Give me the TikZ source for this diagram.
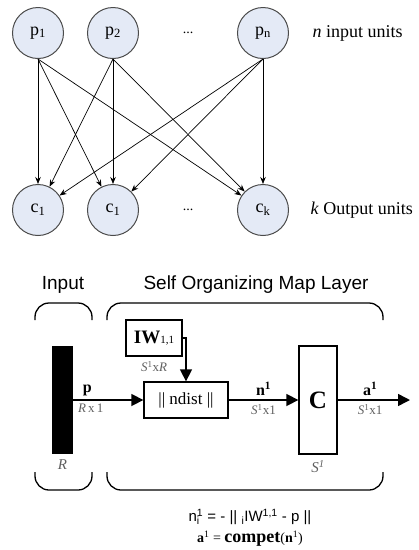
\documentclass[tikz,border=0pt]{standalone}
\usepackage{fontspec}
\setmainfont{Liberation Serif}
\setsansfont{Liberation Sans}
\usetikzlibrary{arrows.meta,positioning}
\definecolor{unitfill}{RGB}{228,234,246}
\definecolor{unitline}{RGB}{75,75,75}
\definecolor{dimgray}{RGB}{95,95,95}
\tikzstyle{unit}=[
  circle,
  draw=unitline,
  fill=unitfill,
  line width=1pt,
  inner sep=0pt,
  minimum size=51pt,
  font={\fontsize{18}{20}\selectfont},
]
\tikzstyle{link}=[
  -{Stealth[length=7pt,width=5.5pt]},
  line width=.7pt,
]
\tikzstyle{unitlabel}=[
  anchor=west,
  font={\fontsize{18}{20}\selectfont},
]
\tikzstyle{layertext}=[
  font={\sffamily\fontsize{19}{21}\selectfont},
]
\tikzstyle{bracketline}=[
  line width=1.3pt,
  rounded corners=14pt,
]
\tikzstyle{block}=[
  draw,
  line width=1.3pt,
  inner sep=0pt,
  rectangle,
  font={\fontsize{17}{19}\selectfont},
]
\tikzstyle{signal}=[
  line width=1.5pt,
  -{Triangle[length=12pt,width=12pt]},
]
\tikzstyle{sizelabel}=[
  color=dimgray,
  font={\fontsize{13}{15}\selectfont},
]
\tikzstyle{varlabel}=[
  font={\fontsize{16}{18}\selectfont\bfseries},
]
\tikzset{
  node distance=75pt,
}

\begin{document}
\begin{tikzpicture}[x=1pt,y=-1pt]
    \useasboundingbox (0,0) rectangle (419,550);
    % competitive network: input units and output units
    \node (p1) [unit] at (38,33) {p\textsubscript{1}};
    \node (p2) [unit, right of=p1] {p\textsubscript{2}};
    \node (pdots) [right of=p2, font={\fontsize{14}{16}\selectfont}] {...};
    \node (pn) [unit, right of=pdots] {p\textsubscript{n}};
    \node (c1) [unit, below of=p1, node distance=177pt] {c\textsubscript{1}};
    \node (c2) [unit, right of=c1] {c\textsubscript{1}};
    \node (cdots) [right of=c2, font={\fontsize{14}{16}\selectfont}] {...};
    \node (ck) [unit, right of=cdots] {c\textsubscript{k}};
    \node (inputs) [unitlabel, right=20pt of pn] {\textit{n} input units};
    \node (outputs) [unitlabel, right=18pt of ck] {\textit{k} Output units};
    \foreach \src in {p1,p2,pn}
      \foreach \dst in {c1,c2,ck}
        \draw [link] (\src.south) -- (\dst);

    % SOM layer block diagram
    \node (inputtitle) [layertext] at (63,285) {Input};
    \node (somtitle) [layertext] at (256,285) {Self Organizing Map Layer};
    \draw [bracketline] (35,320) -- (35,303) -- (92,303) -- (92,320);
    \draw [bracketline] (35,472) -- (35,490) -- (92,490) -- (92,472);
    \draw [bracketline] (107,320) -- (107,303) -- (383,303) -- (383,320);
    \draw [bracketline] (107,472) -- (107,490) -- (383,490) -- (383,472);
    \node (bar) [fill=black, inner sep=0pt, minimum width=21pt, minimum height=108pt] at (62.5,400) {};
    \node (iw) [block, minimum width=56pt, minimum height=36pt] at (154,338)
      {{\fontsize{19}{21}\selectfont\textbf{IW}}{\fontsize{11}{11}\selectfont 1,1}};
    \node (ndist) [block, minimum width=84pt, minimum height=36pt] at (186,400) {|| ndist ||};
    \node (compet) [block, minimum width=38pt, minimum height=108pt] at (318,400)
      {\fontsize{25}{27}\selectfont\textbf{C}};
    \coordinate (aout) at (410,400);
    \draw [signal] (bar) -- node [varlabel, pos=.2, above] {p}
      node [sizelabel, pos=.25, below] {\textit{R}\,x\,1} (ndist);
    \draw [signal] (iw) -| (ndist);
    \draw [signal] (ndist) -- node [varlabel, above] {n\textsuperscript{1}}
      node [sizelabel, below] {\textit{S}\textsuperscript{1}x1} (compet);
    \draw [signal] (compet) -- node [varlabel, pos=.45, above] {a\textsuperscript{1}}
      node [sizelabel, pos=.45, below] {\textit{S}\textsuperscript{1}x1} (aout);
    \node (iwsize) [sizelabel, below=1pt of iw] {\textit{S}\textsuperscript{1}x\textit{R}};
    \node (rsize) [sizelabel, below=2pt of bar, font={\fontsize{15}{17}\selectfont\itshape}] {R};
    \node (ssize) [sizelabel, below=2pt of compet, font={\fontsize{15}{17}\selectfont\itshape}] {S\textsuperscript{1}};

    % layer equations
    \node (neteq) [font={\sffamily\fontsize{15}{17}\selectfont}] at (250,517)
      {n\rlap{\textsubscript{i}}\textsuperscript{1} = - || \textsubscript{i}IW\textsuperscript{1,1} - p ||};
    \node (outeq) [font={\fontsize{14}{16}\selectfont}] at (250,539)
      {\textbf{a}\textsuperscript{1} = {\fontsize{18}{20}\selectfont\textbf{compet}}(\textbf{n}\textsuperscript{1})};
\end{tikzpicture}
\end{document}
